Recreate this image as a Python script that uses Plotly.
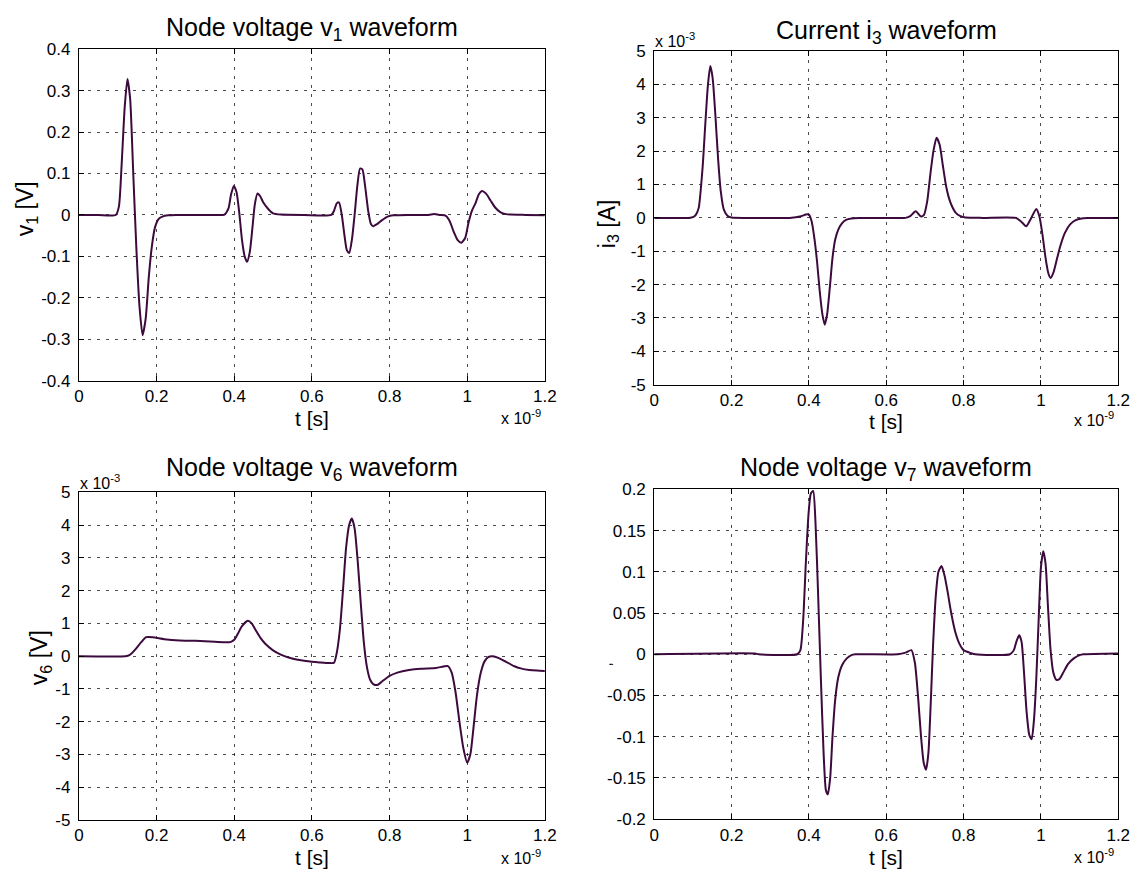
import plotly.graph_objects as go

# ---------------- data (time in units of 1e-9 s) ----------------
t_v1 = [0, 0.05, 0.095, 0.103, 0.110, 0.118, 0.125, 0.132, 0.140, 0.148, 0.156, 0.164, 0.172, 0.180,
        0.188, 0.196, 0.205, 0.215, 0.23, 0.25, 0.30, 0.35, 0.375, 0.385, 0.392, 0.399, 0.406, 0.413,
        0.420, 0.427, 0.433, 0.440, 0.447, 0.453, 0.460, 0.467, 0.475, 0.487, 0.500, 0.52, 0.58, 0.65,
        0.657, 0.664, 0.670, 0.677, 0.684, 0.690, 0.696, 0.703, 0.710, 0.717, 0.724, 0.730, 0.737, 0.745,
        0.752, 0.758, 0.768, 0.780, 0.795, 0.81, 0.85, 0.90, 0.915, 0.93, 0.945, 0.955, 0.965, 0.975,
        0.985, 0.995, 1.003, 1.012, 1.022, 1.030, 1.038, 1.048, 1.060, 1.072, 1.085, 1.10, 1.15, 1.2]
v1 = [0, 0, 0, 0.02, 0.12, 0.26, 0.328, 0.28, 0.10, -0.08, -0.22, -0.29, -0.25, -0.15,
      -0.075, -0.03, -0.01, -0.004, -0.001, 0, 0, 0, 0.001, 0.015, 0.05, 0.07, 0.055, 0.005,
      -0.06, -0.10, -0.113, -0.09, -0.03, 0.025, 0.052, 0.045, 0.03, 0.015, 0.004, 0.001, 0, 0,
      0.01, 0.028, 0.03, 0.0, -0.05, -0.085, -0.092, -0.06, 0.0, 0.07, 0.112, 0.11, 0.07, 0.01,
      -0.022, -0.027, -0.022, -0.013, -0.004, -0.001, 0, 0, 0.002, 0, -0.002, -0.015, -0.04, -0.06,
      -0.067, -0.055, -0.02, 0.01, 0.03, 0.05, 0.058, 0.052, 0.035, 0.018, 0.007, 0.002, 0, -0.001]

t_i3 = [0, 0.09, 0.100, 0.108, 0.115, 0.125, 0.132, 0.139, 0.145, 0.151, 0.158, 0.165, 0.172, 0.180,
        0.190, 0.200, 0.25, 0.35, 0.38, 0.392, 0.400, 0.407, 0.414, 0.421, 0.428, 0.435, 0.441, 0.447,
        0.454, 0.461, 0.468, 0.476, 0.485, 0.496, 0.510, 0.53, 0.6, 0.65, 0.662, 0.676, 0.690, 0.698,
        0.706, 0.714, 0.722, 0.730, 0.738, 0.746, 0.754, 0.762, 0.770, 0.780, 0.792, 0.805, 0.85, 0.935,
        0.948, 0.962, 0.975, 0.988, 0.996, 1.004, 1.012, 1.019, 1.025, 1.032, 1.040, 1.050, 1.062, 1.075,
        1.09, 1.105, 1.12, 1.2]
i3 = [0, 0, 0.02, 0.1, 0.3, 1.5, 2.8, 4.0, 4.55, 4.2, 3.1, 1.8, 0.8, 0.25,
      0.06, 0.01, 0, 0, 0.05, 0.1, 0.1, -0.1, -0.6, -1.3, -2.2, -2.9, -3.2, -2.9,
      -2.1, -1.2, -0.65, -0.35, -0.17, -0.06, -0.02, -0.005, 0, 0, 0.05, 0.2, 0.04, 0.1,
      0.5, 1.3, 2.0, 2.4, 2.2, 1.6, 1.0, 0.6, 0.35, 0.15, 0.05, 0.01, 0, 0,
      -0.1, -0.25, 0.0, 0.27, 0.05, -0.5, -1.2, -1.65, -1.8, -1.65, -1.3, -0.85, -0.45, -0.2,
      -0.07, -0.02, -0.005, 0]

t_v6 = [0, 0.12, 0.13, 0.145, 0.16, 0.173, 0.19, 0.22, 0.26, 0.30, 0.35, 0.39, 0.40, 0.41, 0.42,
        0.435, 0.445, 0.455, 0.468, 0.48, 0.50, 0.52, 0.54, 0.56, 0.58, 0.60, 0.62, 0.645, 0.657,
        0.664, 0.672, 0.680, 0.688, 0.696, 0.703, 0.710, 0.718, 0.726, 0.734, 0.742, 0.750, 0.758,
        0.768, 0.78, 0.80, 0.82, 0.85, 0.88, 0.92, 0.95, 0.96, 0.97, 0.98, 0.99, 1.0, 1.008, 1.016,
        1.025, 1.035, 1.045, 1.055, 1.066, 1.08, 1.10, 1.12, 1.14, 1.16, 1.18, 1.2]
v6 = [0, 0, 0.03, 0.2, 0.42, 0.58, 0.58, 0.52, 0.48, 0.47, 0.44, 0.43, 0.5, 0.7, 0.92,
      1.08, 1.0, 0.8, 0.55, 0.38, 0.18, 0.05, -0.04, -0.1, -0.14, -0.17, -0.19, -0.21, -0.2,
      0.1, 0.8, 2.0, 3.3, 4.0, 4.2, 3.9, 2.9, 1.6, 0.4, -0.35, -0.72, -0.85,
      -0.88, -0.78, -0.6, -0.5, -0.42, -0.38, -0.36, -0.3, -0.5, -1.1, -2.0, -2.8, -3.25, -3.0, -2.2,
      -1.2, -0.5, -0.15, -0.02, 0.0, -0.05, -0.17, -0.3, -0.38, -0.42, -0.44, -0.45]

t_v7 = [0, 0.26, 0.27, 0.37, 0.378, 0.385, 0.392, 0.399, 0.405, 0.411, 0.417, 0.424, 0.431, 0.438,
        0.444, 0.449, 0.455, 0.461, 0.468, 0.476, 0.486, 0.498, 0.51, 0.52, 0.63, 0.65, 0.665, 0.674,
        0.682, 0.690, 0.697, 0.703, 0.709, 0.715, 0.721, 0.728, 0.735, 0.743, 0.751, 0.759, 0.768,
        0.778, 0.79, 0.80, 0.815, 0.83, 0.92, 0.93, 0.937, 0.944, 0.950, 0.956, 0.963, 0.970, 0.976,
        0.982, 0.988, 0.994, 1.000, 1.006, 1.012, 1.018, 1.025, 1.032, 1.040, 1.048, 1.058, 1.07,
        1.085, 1.1, 1.11, 1.2]
v7 = [0, 0.001, 0, 0, 0.005, 0.04, 0.11, 0.17, 0.195, 0.198, 0.16, 0.07, -0.03, -0.12,
      -0.165, -0.17, -0.15, -0.1, -0.055, -0.028, -0.013, -0.005, -0.001, 0, 0, 0.002, 0.005, -0.01,
      -0.05, -0.1, -0.132, -0.14, -0.12, -0.06, 0.01, 0.07, 0.1, 0.107, 0.095, 0.075, 0.05,
      0.028, 0.012, 0.005, 0.002, 0, 0, 0.005, 0.016, 0.023, 0.015, -0.02, -0.07, -0.098, -0.103,
      -0.08, -0.03, 0.04, 0.105, 0.125, 0.11, 0.06, 0.005, -0.022, -0.031, -0.03, -0.022, -0.012,
      -0.005, -0.001, 0, 0.001]

x_ticks = [0, 0.2, 0.4, 0.6, 0.8, 1.0, 1.2]
x_tick_text = ["0", "0.2", "0.4", "0.6", "0.8", "1", "1.2"]
y_ticks_v1 = [-0.4, -0.3, -0.2, -0.1, 0, 0.1, 0.2, 0.3, 0.4]
y_text_v1 = ["-0.4", "-0.3", "-0.2", "-0.1", "0", "0.1", "0.2", "0.3", "0.4"]
y_ticks_m = [-5, -4, -3, -2, -1, 0, 1, 2, 3, 4, 5]
y_text_m = ["-5", "-4", "-3", "-2", "-1", "0", "1", "2", "3", "4", "5"]
y_ticks_v7 = [-0.2, -0.15, -0.1, -0.05, 0, 0.05, 0.1, 0.15, 0.2]
y_text_v7 = ["-0.2", "-0.15", "-0.1", "-0.05", "0", "0.05", "0.1", "0.15", "0.2"]

titles = ["Node voltage v<sub>1</sub> waveform", "Current i<sub>3</sub> waveform",
          "Node voltage v<sub>6</sub> waveform", "Node voltage v<sub>7</sub> waveform"]
ylabels = ["v<sub>1</sub> [V]", "i<sub>3</sub> [A]", "v<sub>6</sub> [V]", ","]

# ---------------- layout geometry (screen pixels) ----------------
W, H = 1147, 879
boxes = [(75, 548, 41, 380), (659, 1130, 43, 384), (75, 548, 494, 829), (659, 1130, 491, 828)]
title_y = [20, 23, 470, 470]
xlab_y = [419, 422, 867, 867]
exp_y = [417, 419, 867, 866]
ylab_x = [22, 612, 36, 610]
ylab_y = [204, 219, 663, 670]

FONT = "Liberation Sans, Arial, Helvetica, sans-serif"
LINE = "#3d0a3e"

def px(x):
    return x / W

def py(y):
    return 1 - y / H

fig = go.Figure()
series = [(t_v1, v1), (t_i3, i3), (t_v6, v6), (t_v7, v7)]
yranges = [[-0.4, 0.4], [-5, 5], [-5, 5], [-0.2, 0.2]]
yticks = [(y_ticks_v1, y_text_v1), (y_ticks_m, y_text_m), (y_ticks_m, y_text_m), (y_ticks_v7, y_text_v7)]

annotations = []
for k, ((x0, x1, y0, y1), (tt, vv)) in enumerate(zip(boxes, series)):
    n = "" if k == 0 else str(k + 1)
    fig.add_trace(go.Scatter(x=tt, y=vv, mode="lines", xaxis="x" + n, yaxis="y" + n,
                             line=dict(color=LINE, width=2, shape="spline", smoothing=0.6),
                             showlegend=False, hoverinfo="skip"))
    common = dict(showline=True, linecolor="black", linewidth=1, mirror="allticks",
                  ticks="inside", ticklen=5, tickcolor="black", showgrid=True,
                  gridcolor="rgba(0,0,0,0.7)", gridwidth=1, griddash="3px,6px",
                  zeroline=False, tickfont=dict(family=FONT, size=17, color="black"))
    fig.layout["xaxis" + n] = dict(domain=[px(x0), px(x1)], range=[0, 1.2], anchor="y" + n,
                                   tickvals=x_ticks, ticktext=x_tick_text, ticklabelstandoff=0,
                                   **common)
    fig.layout["yaxis" + n] = dict(domain=[py(y1), py(y0)], range=yranges[k], anchor="x" + n,
                                   tickvals=yticks[k][0], ticktext=yticks[k][1], ticklabelstandoff=4,
                                   **common)
    cx = (x0 + x1) / 2
    annotations.append(dict(text=titles[k], x=px(cx), y=py(title_y[k]), xref="paper", yref="paper",
                            showarrow=False, font=dict(family=FONT, size=25, color="black"),
                            xanchor="center", yanchor="middle"))
    annotations.append(dict(text="t [s]", x=px(cx), y=py(xlab_y[k]), xref="paper", yref="paper",
                            showarrow=False, font=dict(family=FONT, size=21, color="black"),
                            xanchor="center", yanchor="middle"))
    annotations.append(dict(text="x 10<sup>-9</sup>", x=px(x1 - 2), y=py(exp_y[k]), xref="paper",
                            yref="paper", showarrow=False, font=dict(family=FONT, size=16, color="black"),
                            xanchor="right", yanchor="middle"))
    annotations.append(dict(text=ylabels[k], x=px(ylab_x[k]), y=py(ylab_y[k]),
                            xref="paper", yref="paper", showarrow=False, textangle=-90,
                            font=dict(family=FONT, size=23 if k != 3 else 15, color="black"),
                            xanchor="center", yanchor="middle"))
    if k in (1, 2):
        annotations.append(dict(text="x 10<sup>-3</sup>", x=px(x0 - 1), y=py(y0 - 11), xref="paper",
                                yref="paper", showarrow=False,
                                font=dict(family=FONT, size=16, color="black"),
                                xanchor="left", yanchor="middle"))

fig.update_layout(width=W, height=H, margin=dict(l=0, r=0, t=0, b=0), paper_bgcolor="white",
                  plot_bgcolor="white", annotations=annotations, showlegend=False)

# no toolbar, and no default 8px page margin so the figure sits at the window corner
fig.write_html("out.html", config={"displayModeBar": False},
               post_script="document.body.style.margin='0px';")
